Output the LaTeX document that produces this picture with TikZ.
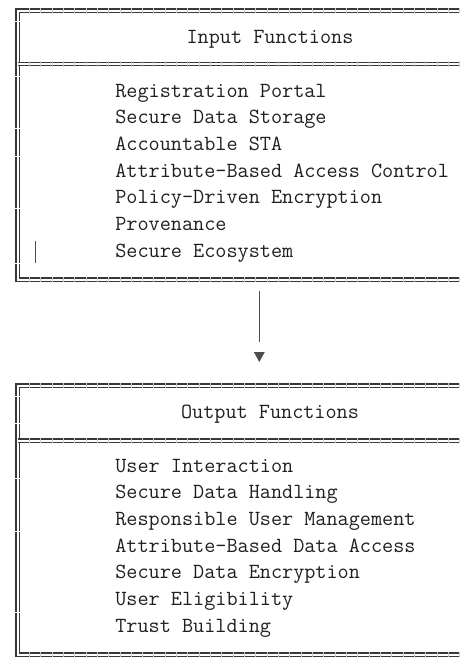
\documentclass[tikz,border=0pt]{standalone}
\usetikzlibrary{arrows.meta}
\tikzset{
  /tikz/.cd,
  frame/.style={draw=black!78,double=white,double distance=1.5pt,line width=1pt},
  heading/.style={font=\ttfamily\fontsize{16.2}{19}\selectfont,text=black!88,inner sep=0pt,anchor=base},
  entry/.style={heading,anchor=base west}
}

\begin{document}
\begin{tikzpicture}[x=0.75pt,y=-0.75pt,
                    link/.style={draw=black!70,line width=0.8pt},
                    rowgap/.style={draw=white,line width=0.6pt},
                    colgap/.style={draw=white!80!black,line width=0.4pt}]
  \useasboundingbox (0,0) rectangle (460,657);

  \draw[frame] (470,10.75) -| (17.5,279.5) -- (470,279.5);
  \draw[frame] (17.5,64) -- (470,64);
  \draw[frame] (470,385.5) -| (17.5,654.5) -- (470,654.5);
  \draw[frame] (17.5,440.5) -- (470,440.5);

  \foreach \y in {10.75,64,279.5,385.5,440.5,654.5}
    \foreach \k in {1,...,39}
      \draw[colgap] ({17.8+11.33*\k},\y-2.6) -- ++(0,5.2);
  \foreach \y in {21,76,128,156,208,263,396,423,478,531,612}
    \draw[rowgap] (13.5,\y) -- (21.5,\y);

  \node[heading] (inTitle) at (270,43.5) {Input Functions};
  \foreach \txt [count=\i] in {Registration Portal,Secure Data Storage,Accountable STA,
      Attribute-Based Access Control,Policy-Driven Encryption,Provenance,Secure Ecosystem}
    \node[entry] (in\i) at (115,{97+26.67*(\i-1)}) {\txt};
  \draw[link] (35.5,241) -- (35.5,263);

  \node[heading] (outTitle) at (270,418.5) {Output Functions};
  \foreach \txt [count=\i] in {User Interaction,Secure Data Handling,Responsible User Management,
      Attribute-Based Data Access,Secure Data Encryption,User Eligibility,Trust Building}
    \node[entry] (out\i) at (115,{472+26.67*(\i-1)}) {\txt};

  \coordinate (lineTop) at (259.3,291);
  \coordinate (lineEnd) at (259.3,342);
  \coordinate (tipBase) at (259.3,352);
  \coordinate (tipEnd) at (259.3,362);
  \draw[link] (lineTop) -- (lineEnd);
  \draw[link,-{Triangle[length=7.5pt,width=8pt]}] (tipBase) -- (tipEnd);
\end{tikzpicture}
\end{document}
